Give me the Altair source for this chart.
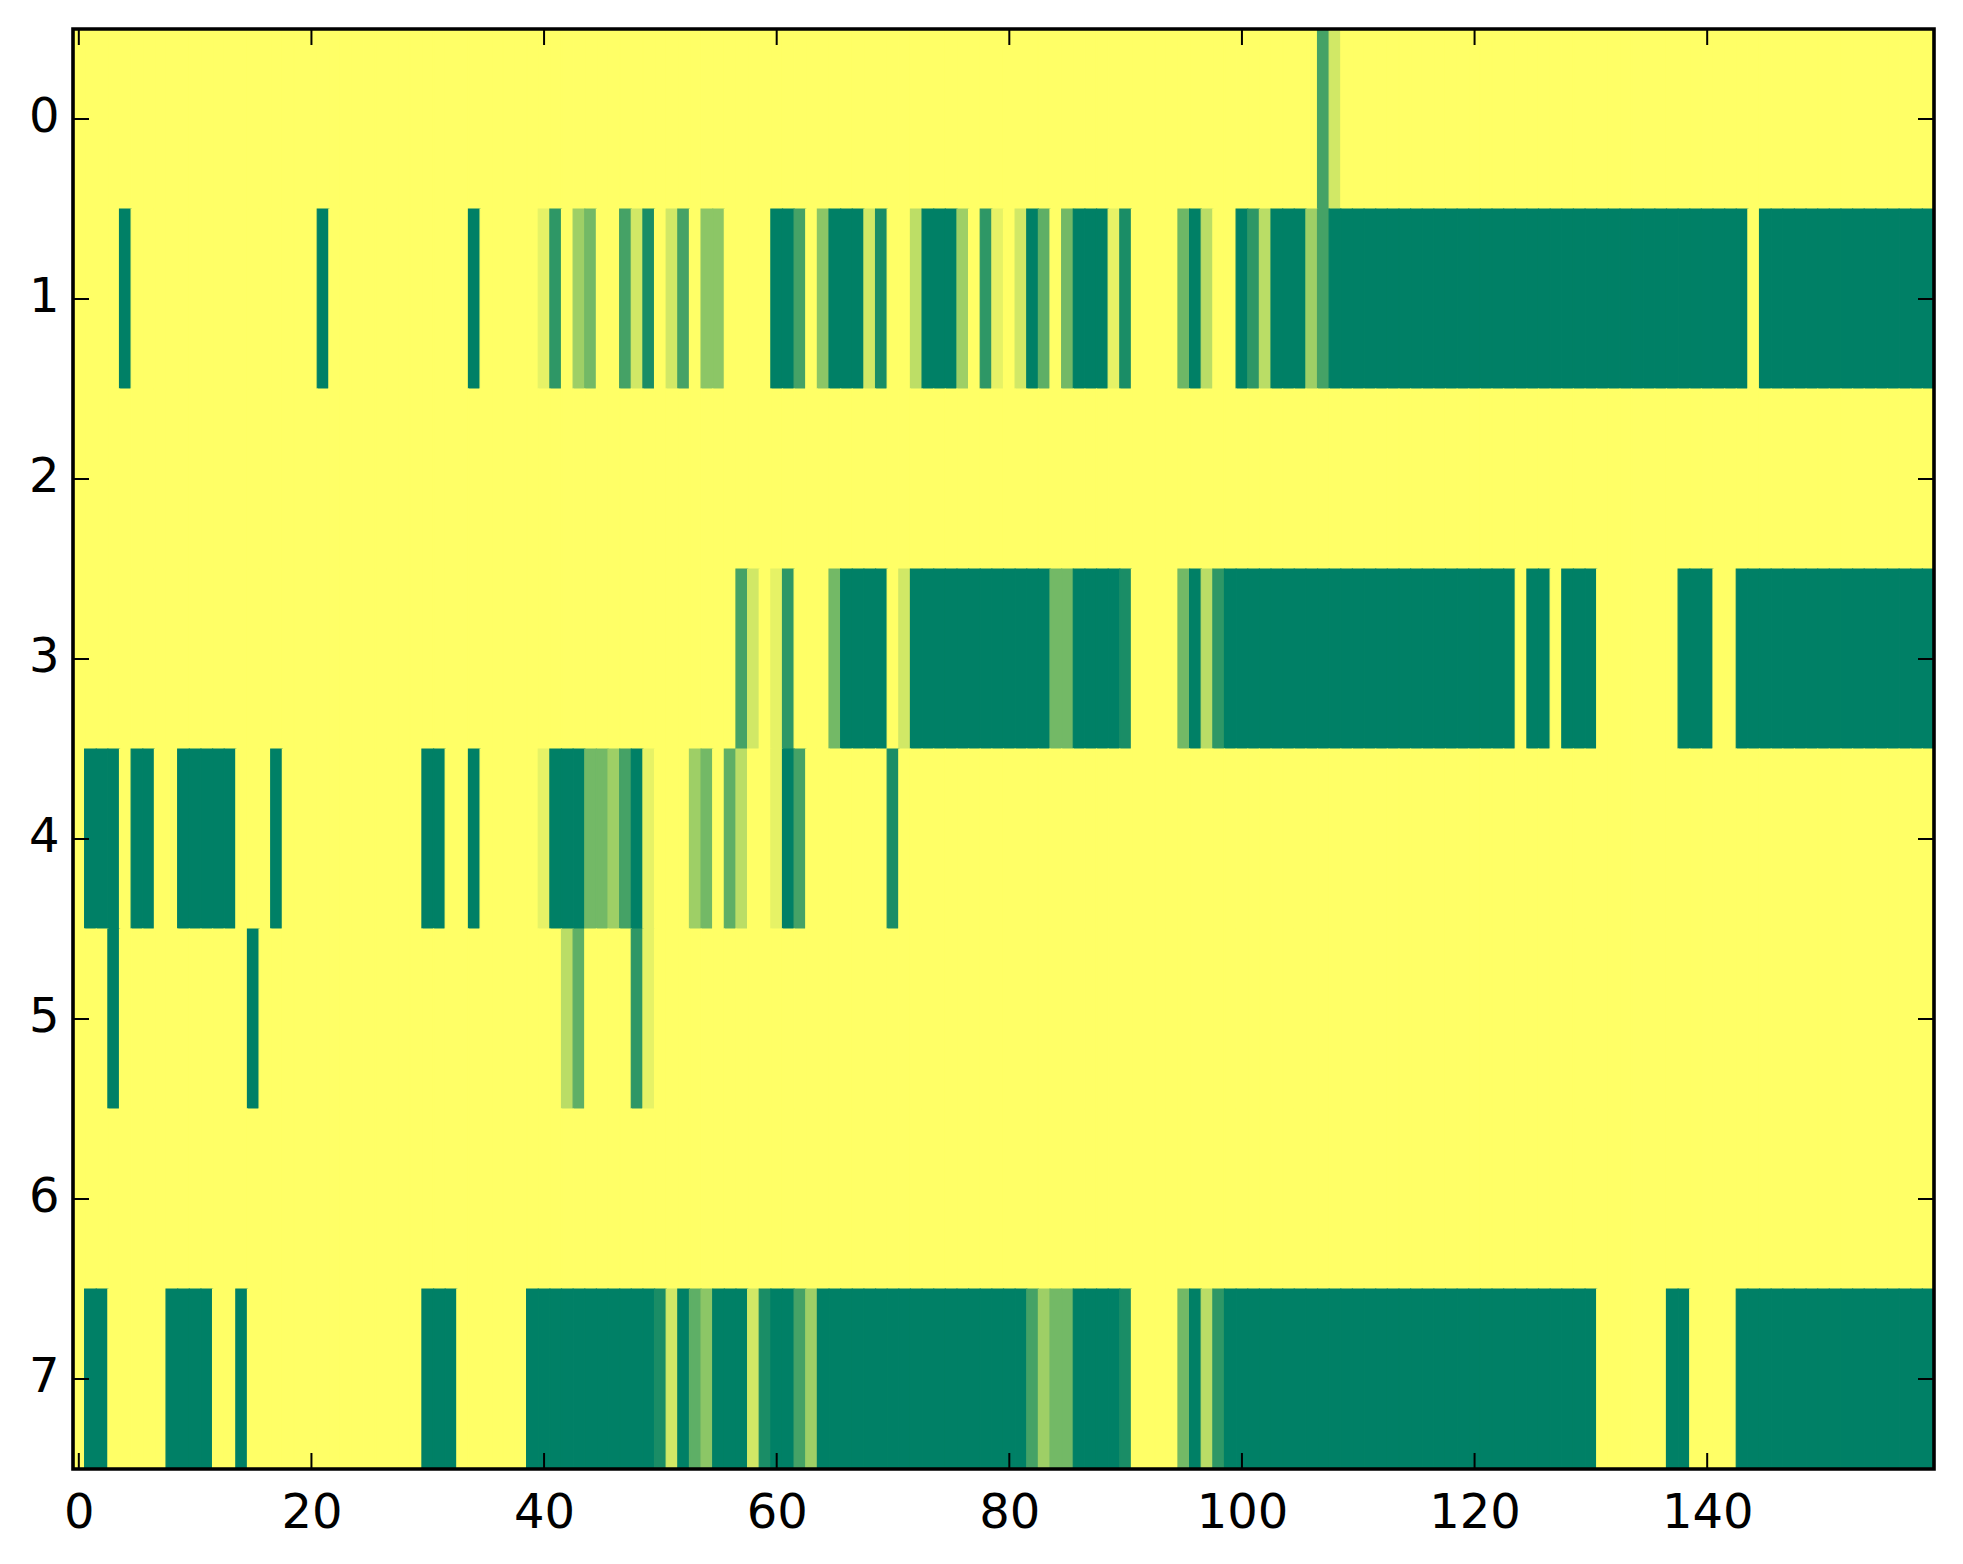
import altair as alt
import pandas as pd

n_cols = 160
row_ids = [0, 1, 2, 3, 4, 5, 6, 7]
x_ticks = [0, 20, 40, 60, 80, 100, 120, 140]
y_ticks = [0, 1, 2, 3, 4, 5, 6, 7]

# runs of (first column, last column, value); all other cells are 0
row0 = [(107, 107, 0.73), (108, 108, 0.18)]
row1 = [(4, 4, 1.0), (21, 21, 1.0), (34, 34, 1.0), (40, 40, 0.10), (41, 41, 0.82), (43, 43, 0.38),
        (44, 44, 0.55), (47, 47, 0.73), (48, 48, 0.18), (49, 49, 0.90), (51, 51, 0.18), (52, 52, 0.73),
        (54, 55, 0.45), (60, 61, 1.0), (62, 62, 0.73), (64, 64, 0.45), (65, 67, 1.0), (68, 68, 0.18),
        (69, 69, 0.90), (72, 72, 0.26), (73, 75, 1.0), (76, 76, 0.38), (78, 78, 0.82), (79, 79, 0.10),
        (81, 81, 0.18), (82, 82, 1.0), (83, 83, 0.63), (85, 85, 0.55), (86, 88, 1.0), (89, 89, 0.10),
        (90, 90, 0.90), (95, 95, 0.57), (96, 96, 1.0), (97, 97, 0.27), (100, 100, 1.0), (101, 101, 0.82),
        (102, 102, 0.27), (103, 105, 1.0), (106, 106, 0.38), (107, 107, 0.73), (108, 143, 1.0),
        (145, 159, 1.0)]
row2 = []
row3 = [(57, 57, 0.73), (58, 58, 0.18), (60, 60, 0.10), (61, 61, 0.82), (65, 65, 0.55), (66, 69, 1.0),
        (71, 71, 0.18), (72, 83, 1.0), (84, 85, 0.55), (86, 89, 1.0), (90, 90, 0.90), (95, 95, 0.55),
        (96, 96, 1.0), (97, 97, 0.27), (98, 98, 0.82), (99, 123, 1.0), (125, 126, 1.0), (128, 130, 1.0),
        (138, 140, 1.0), (143, 159, 1.0)]
row4 = [(1, 3, 1.0), (5, 6, 1.0), (9, 13, 1.0), (17, 17, 1.0), (30, 31, 1.0), (34, 34, 1.0),
        (40, 40, 0.10), (41, 43, 1.0), (44, 45, 0.55), (46, 46, 0.38), (47, 47, 0.73), (48, 48, 1.0),
        (49, 49, 0.10), (53, 53, 0.38), (54, 54, 0.55), (56, 56, 0.63), (57, 57, 0.27), (60, 60, 0.10),
        (61, 61, 1.0), (62, 62, 0.73), (70, 70, 0.90)]
row5 = [(3, 3, 1.0), (15, 15, 1.0), (42, 42, 0.27), (43, 43, 0.63), (48, 48, 0.82), (49, 49, 0.10)]
row6 = []
row7 = [(1, 2, 1.0), (8, 11, 1.0), (14, 14, 1.0), (30, 32, 1.0), (39, 49, 1.0), (50, 50, 0.90),
        (51, 51, 0.18), (52, 52, 1.0), (53, 53, 0.63), (54, 54, 0.45), (55, 57, 1.0), (58, 58, 0.18),
        (59, 59, 0.90), (60, 61, 1.0), (62, 62, 0.73), (63, 63, 0.38), (64, 81, 1.0), (82, 82, 0.73),
        (83, 83, 0.38), (84, 85, 0.55), (86, 89, 1.0), (90, 90, 0.90), (95, 95, 0.55), (96, 96, 1.0),
        (97, 97, 0.27), (98, 98, 0.82), (99, 130, 1.0), (137, 138, 1.0), (143, 159, 1.0)]

all_rows = [row0, row1, row2, row3, row4, row5, row6, row7]

records = []
for r, runs in zip(row_ids, all_rows):
    vals = [0.0] * n_cols
    for a, b, v in runs:
        for c in range(a, b + 1):
            vals[c] = v
    for c in range(n_cols):
        records.append({"x0": c - 0.5, "x1": c + 0.5, "y0": r - 0.5, "y1": r + 0.5, "v": vals[c]})
df = pd.DataFrame(records)

W = 1861
H = 1440
FONT = "DejaVu Sans"
TICK = 16

xscale = alt.Scale(domain=[-0.5, n_cols - 0.5], nice=False, zero=False)
yscale = alt.Scale(domain=[-0.5, 7.5], nice=False, zero=False, reverse=True)
cscale = alt.Scale(domain=[0, 1], range=["#ffff66", "#008066"], interpolate="rgb")

xaxis = alt.Axis(values=x_ticks, title=None, ticks=False, domain=False, grid=False,
                 labelFont=FONT, labelFontSize=48, labelColor="black", labelPadding=20,
                 labelFlush=False, labelOverlap=False, format="d")
yaxis = alt.Axis(values=y_ticks, title=None, ticks=False, domain=False, grid=False,
                 labelFont=FONT, labelFontSize=48, labelColor="black", labelPadding=14,
                 labelOffset=-2, labelOverlap=False, format="d")

cells = alt.Chart(df).mark_rect(strokeWidth=1.2).encode(
    x=alt.X("x0:Q", scale=xscale, axis=xaxis),
    x2="x1:Q",
    y=alt.Y("y0:Q", scale=yscale, axis=yaxis),
    y2="y1:Q",
    color=alt.Color("v:Q", scale=cscale, legend=None),
    stroke=alt.Stroke("v:Q", scale=cscale, legend=None),
)

xt = pd.DataFrame({"t": x_ticks})
yt = pd.DataFrame({"t": y_ticks})

tick_bottom = alt.Chart(xt).mark_rule(color="black", strokeWidth=2).encode(
    x=alt.X("t:Q", title=None), y=alt.value(H), y2=alt.value(H - TICK))
tick_top = alt.Chart(xt).mark_rule(color="black", strokeWidth=2).encode(
    x=alt.X("t:Q", title=None), y=alt.value(0), y2=alt.value(TICK))
tick_left = alt.Chart(yt).mark_rule(color="black", strokeWidth=2).encode(
    y=alt.Y("t:Q", title=None), x=alt.value(0), x2=alt.value(TICK))
tick_right = alt.Chart(yt).mark_rule(color="black", strokeWidth=2).encode(
    y=alt.Y("t:Q", title=None), x=alt.value(W - TICK), x2=alt.value(W))

frame = alt.Chart(pd.DataFrame({"f": [0]})).mark_rect(
    filled=False, stroke="black", strokeWidth=3.6
).encode(x=alt.value(0), x2=alt.value(W), y=alt.value(0), y2=alt.value(H))

chart = alt.layer(cells, tick_bottom, tick_top, tick_left, tick_right, frame).properties(
    width=W,
    height=H,
    autosize=alt.AutoSizeParams(type="none"),
    padding={"left": 65, "top": 21, "right": 15, "bottom": 75},
).configure_view(
    fill="#ffff66", stroke="transparent"
).configure(background="white")

chart.save("out.html", embed_options={"renderer": "svg", "actions": False})
